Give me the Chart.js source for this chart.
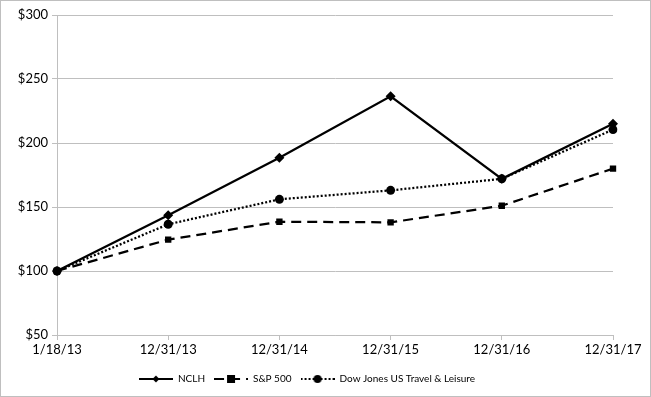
<!DOCTYPE html>
<html>
<head>
<meta charset="utf-8">
<script src="https://cdn.jsdelivr.net/npm/chart.js@4.4.1/dist/chart.umd.min.js"></script>
<style>
  html, body { margin: 0; padding: 0; background: #fff; }
  #wrap { width: 649px; height: 395px; border: 1px solid #bfbfbf; position: relative; }
</style>
</head>
<body>
<div id="wrap"><canvas id="chart" width="649" height="395"></canvas></div>
<script>
const fechas = ["1/18/13", "12/31/13", "12/31/14", "12/31/15", "12/31/16", "12/31/17"];
const nclh = [100, 143.5, 188.5, 236.5, 172, 215];
const sp500 = [100, 124.5, 138.5, 138, 151, 180];
const djTravel = [100, 136.5, 156, 163, 172, 210.5];
const nombres = ["NCLH", "S&P 500", "Dow Jones US Travel & Leisure"];

// icono de leyenda: linea con el marcador en el medio
function iconoLeyenda(dash, marker) {
    const c = document.createElement("canvas");
    c.width = 34; c.height = 10;
    const ctx = c.getContext("2d");
    ctx.strokeStyle = "#000";
    ctx.fillStyle = "#000";
    ctx.lineWidth = 2;
    ctx.setLineDash(dash);
    ctx.beginPath();
    ctx.moveTo(0, 5); ctx.lineTo(34, 5);
    ctx.stroke();
    ctx.setLineDash([]);
    ctx.beginPath();
    if (marker === "rectRot") {
        ctx.moveTo(17, 1.5); ctx.lineTo(20.5, 5); ctx.lineTo(17, 8.5); ctx.lineTo(13.5, 5);
    } else if (marker === "rect") {
        ctx.rect(13, 1, 8, 8);
    } else {
        ctx.arc(17, 5, 4, 0, Math.PI * 2);
    }
    ctx.fill();
    return c;
}

const estilos = [
    { dash: [], marker: "rectRot", radius: 5 },
    { dash: [10, 6], marker: "rect", radius: 4.5 },
    { dash: [2, 2], marker: "circle", radius: 4.5 }
];
const series = [nclh, sp500, djTravel];

const datasets = series.map((s, i) => ({
    label: nombres[i],
    data: s,
    borderColor: "#000",
    backgroundColor: "#000",
    borderWidth: 2.25,
    borderDash: estilos[i].dash,
    pointStyle: estilos[i].marker,
    pointRadius: estilos[i].radius,
    pointBorderWidth: 0,
    tension: 0,
    fill: false
}));

const iconos = estilos.map(e => iconoLeyenda(e.dash, e.marker));

new Chart(document.getElementById("chart"), {
    type: "line",
    data: { labels: fechas, datasets: datasets },
    options: {
        responsive: false,
        animation: false,
        layout: { padding: { left: 0, right: 37, top: 14, bottom: 2 } },
        plugins: {
            tooltip: { enabled: false },
            legend: {
                position: "bottom",
                labels: {
                    usePointStyle: true,
                    pointStyleWidth: 34,
                    padding: 9,
                    color: "#000",
                    font: { family: "Lato", size: 10 },
                    generateLabels: chart => chart.data.datasets.map((d, i) => ({
                        text: d.label,
                        pointStyle: iconos[i],
                        fillStyle: "#000",
                        strokeStyle: "#000",
                        lineWidth: 0,
                        datasetIndex: i
                    }))
                }
            }
        },
        scales: {
            x: {
                offset: false,
                grid: { drawOnChartArea: false, drawTicks: true, tickLength: 5, color: "#bfbfbf" },
                border: { color: "#bfbfbf" },
                ticks: { color: "#000", font: { family: "Lato", size: 13 }, maxRotation: 0, padding: 2 },
                afterFit: s => { s.height = 30; }
            },
            y: {
                min: 50,
                max: 300,
                ticks: {
                    stepSize: 50,
                    color: "#000",
                    font: { family: "Lato", size: 13 },
                    padding: 4,
                    callback: v => "$" + v
                },
                grid: { color: "#bfbfbf", tickLength: 5 },
                border: { color: "#bfbfbf" },
                afterFit: s => { s.width = 56; }
            }
        }
    }
});
</script>
</body>
</html>
